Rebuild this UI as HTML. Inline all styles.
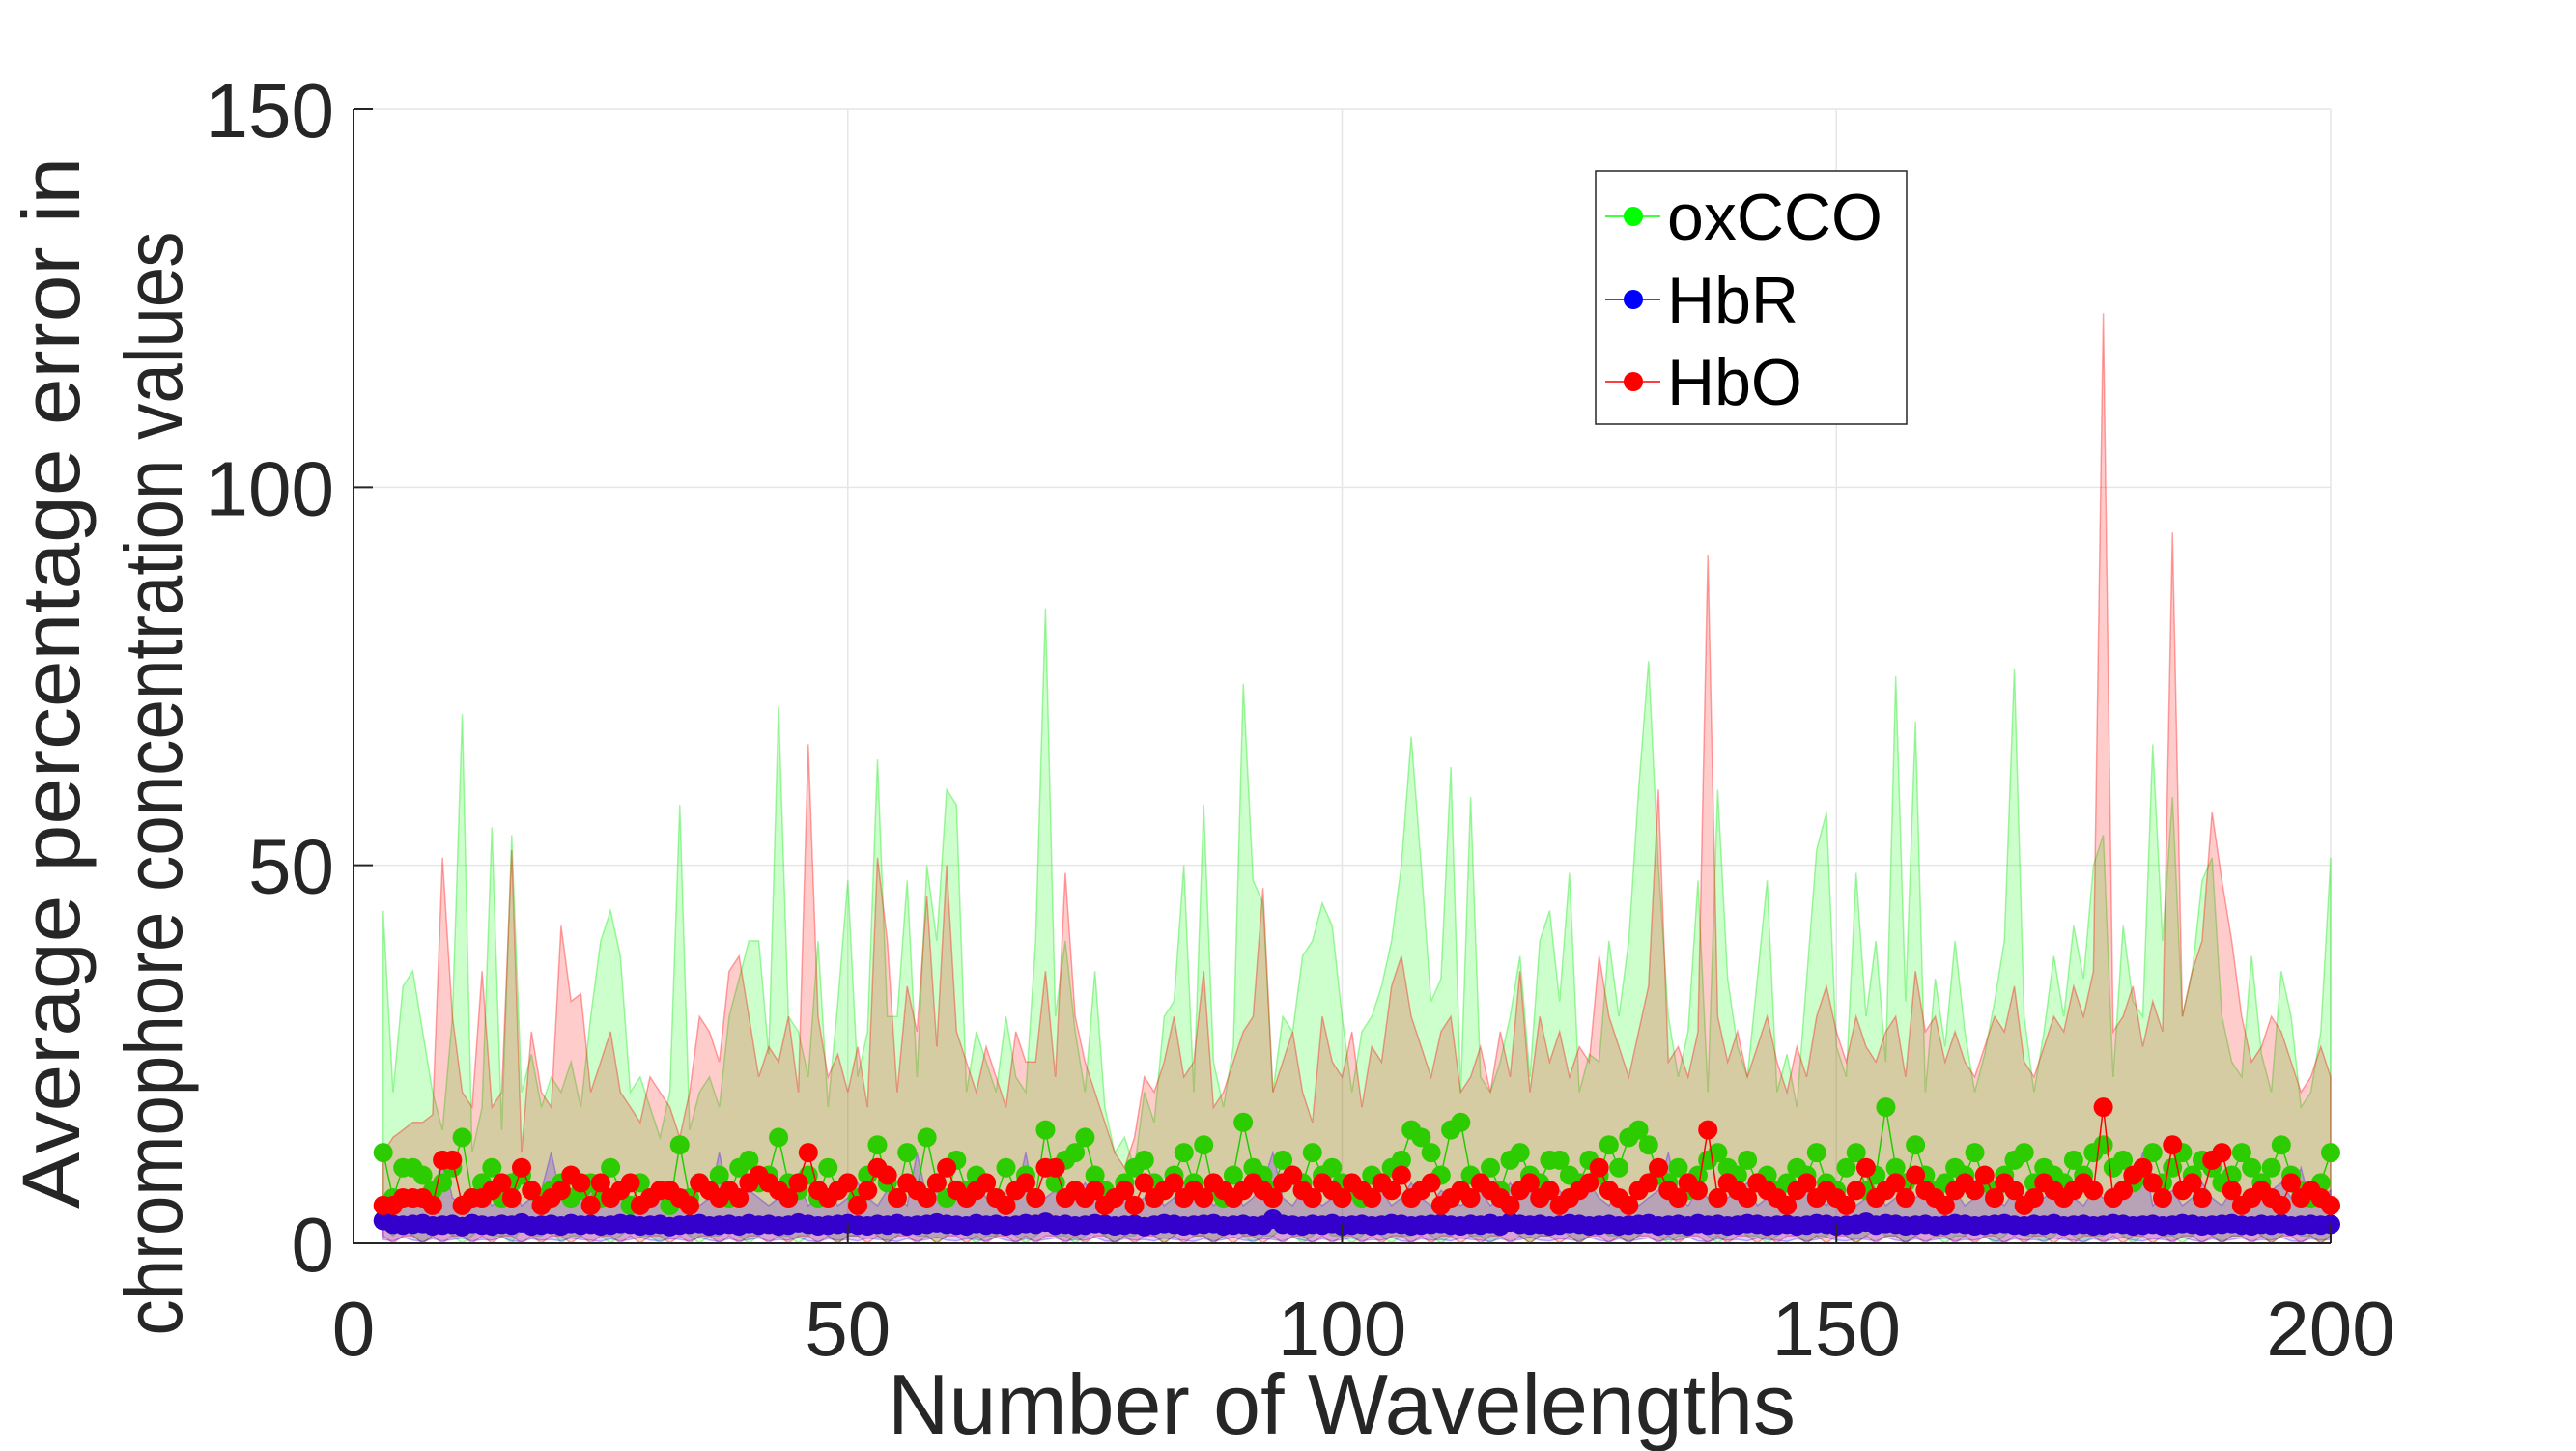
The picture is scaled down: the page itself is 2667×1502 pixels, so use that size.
<!DOCTYPE html>
<html><head><meta charset="utf-8"><style>
html,body{margin:0;padding:0;background:#fff;}
svg{display:block;font-family:"Liberation Sans",Arial,sans-serif;}
</style></head><body>
<svg id="chart" width="2667" height="1502" viewBox="0 0 2667 1502" xmlns="http://www.w3.org/2000/svg">
<rect width="2667" height="1502" fill="#fff"/>
<g id="grid"></g>
<g id="bands"></g>
<g id="series"></g>
<g id="axes"></g>
<text x="1389" y="1484" font-size="88" fill="#262626" text-anchor="middle" textLength="940" lengthAdjust="spacingAndGlyphs">Number of Wavelengths</text>
<text transform="translate(82,707) rotate(-90)" font-size="84" fill="#262626" text-anchor="middle" textLength="1088" lengthAdjust="spacingAndGlyphs">Average percentage error in</text>
<text transform="translate(188,811) rotate(-90)" font-size="84" fill="#262626" text-anchor="middle" textLength="1143" lengthAdjust="spacingAndGlyphs">chromophore concentration values</text>
<g>
<rect x="1652" y="177" width="322" height="262" fill="#fff" stroke="#262626" stroke-width="1.5"/>
<g><line x1="1662" y1="224" x2="1719" y2="224" stroke="#00ff00" stroke-width="1.5"/><circle cx="1691" cy="224" r="10" fill="#00ff00"/><text x="1726" y="248" font-size="68" fill="#000">oxCCO</text></g>
<g><line x1="1662" y1="310" x2="1719" y2="310" stroke="#0000ff" stroke-width="1.5"/><circle cx="1691" cy="310" r="10" fill="#0000ff"/><text x="1726" y="334" font-size="68" fill="#000">HbR</text></g>
<g><line x1="1662" y1="395" x2="1719" y2="395" stroke="#ff0000" stroke-width="1.5"/><circle cx="1691" cy="395" r="10" fill="#ff0000"/><text x="1726" y="419" font-size="68" fill="#000">HbO</text></g>
</g>
</svg>
<script>
const xTicks=[0,50,100,150,200];
const yTicks=[0,50,100,150];
const gU=[44,20,34,36,28,20,15,30,70,12,18,55,15,54,20,25,18,22,20,24,18,30,40,44,38,20,22,18,14,20,58,15,20,22,18,30,35,40,40,25,71,30,28,22,40,18,32,48,22,28,64,30,30,48,22,50,40,60,58,20,28,24,20,30,22,20,40,84,30,40,28,20,36,18,12,14,10,20,16,30,32,50,20,58,24,18,26,74,48,45,20,30,28,38,40,45,42,30,20,28,30,34,40,50,67,50,32,35,63,20,59,22,20,24,30,38,22,40,44,32,49,20,25,24,40,30,40,60,77,50,30,22,28,48,20,60,35,26,22,35,48,20,25,18,35,52,57,26,22,49,30,40,24,75,32,69,20,35,26,40,28,20,25,32,40,76,30,20,28,38,30,42,35,50,54,22,42,32,30,66,40,59,30,36,48,51,30,24,22,38,25,20,36,30,18,20,28,51];
const rU=[12,14,15,16,16,17,51,30,20,18,36,18,20,52,12,28,20,18,42,32,33,20,24,28,20,18,16,22,20,18,14,20,30,28,24,36,38,30,22,26,24,30,20,66,30,22,25,20,26,18,51,40,20,34,28,46,26,50,28,24,20,26,22,18,28,24,24,36,22,49,30,24,20,16,12,10,14,22,20,24,30,22,24,36,18,20,24,28,30,47,20,24,28,20,16,30,24,22,28,18,26,24,34,38,30,26,22,28,30,20,22,26,20,28,22,36,20,30,24,28,22,26,24,38,30,26,22,28,34,60,24,26,22,28,91,30,24,28,22,26,30,24,20,26,22,30,34,28,24,30,26,24,28,30,22,36,28,30,24,28,24,22,26,30,28,34,24,22,26,30,28,34,30,36,123,28,30,34,26,32,28,94,30,36,40,57,48,40,30,24,26,30,28,24,20,22,26,22];
const gM=[12,6,10,10,9,7,8,10,14,6,8,10,6,8,9,7,6,7,8,6,7,8,6,10,7,5,8,6,7,5,13,6,8,7,9,6,10,11,8,9,14,8,7,9,6,10,7,8,6,9,13,8,6,12,7,14,8,6,11,7,9,8,6,10,7,9,6,15,8,11,12,14,9,7,6,8,10,11,8,7,9,12,8,13,7,6,9,16,10,9,7,11,9,8,12,9,10,8,7,6,9,8,10,11,15,14,12,9,15,16,9,8,10,7,11,12,9,8,11,11,9,8,11,9,13,10,14,15,13,9,8,10,7,9,11,12,10,9,11,8,9,7,8,10,9,12,8,7,10,12,7,9,18,10,8,13,9,7,8,10,9,12,8,7,9,11,12,8,10,9,8,11,9,12,13,10,11,8,9,12,8,10,12,9,11,10,8,9,12,10,8,10,13,9,7,6,8,12];
const rM=[5,5,6,6,6,5,11,11,5,6,6,7,8,6,10,7,5,6,7,9,8,5,8,6,7,8,5,6,7,7,6,5,8,7,6,7,6,8,9,8,7,6,8,12,7,6,7,8,5,7,10,9,6,8,7,6,8,10,7,6,7,8,6,5,7,8,6,10,10,6,7,6,7,5,6,7,5,8,6,7,8,6,7,6,8,7,6,7,8,7,6,8,9,7,6,8,7,6,8,7,6,8,7,9,6,7,8,5,6,7,6,8,7,6,5,7,8,6,7,5,6,7,8,10,7,6,5,7,8,10,7,6,8,7,15,6,8,7,6,8,7,6,5,7,8,6,7,6,5,7,10,6,7,8,6,9,7,6,5,7,8,7,9,6,8,7,5,6,8,7,6,7,8,7,18,6,7,9,10,8,6,13,7,8,6,11,12,7,5,6,7,6,5,8,6,7,6,5];
const bM=[3,2.5,2.4,2.5,2.6,2.3,2.4,2.5,2.2,2.6,2.4,2.3,2.5,2.4,2.7,2.3,2.4,2.5,2.3,2.6,2.4,2.5,2.3,2.4,2.6,2.5,2.3,2.4,2.5,2.2,2.4,2.5,2.6,2.3,2.4,2.5,2.3,2.6,2.4,2.5,2.3,2.4,2.7,2.5,2.3,2.4,2.5,2.6,2.4,2.3,2.5,2.4,2.6,2.3,2.4,2.5,2.7,2.5,2.4,2.3,2.6,2.4,2.5,2.3,2.4,2.6,2.5,2.8,2.4,2.5,2.3,2.4,2.6,2.5,2.3,2.4,2.5,2.2,2.4,2.6,2.5,2.3,2.4,2.5,2.6,2.3,2.4,2.5,2.3,2.4,3.2,2.5,2.4,2.3,2.5,2.4,2.6,2.3,2.4,2.5,2.3,2.4,2.6,2.5,2.3,2.4,2.5,2.6,2.4,2.3,2.5,2.4,2.6,2.3,2.8,2.5,2.4,2.5,2.3,2.4,2.6,2.5,2.3,2.4,2.5,2.3,2.4,2.5,2.6,2.3,2.4,2.5,2.3,2.6,2.4,2.5,2.3,2.4,2.6,2.5,2.3,2.4,2.5,2.3,2.4,2.6,2.5,2.3,2.4,2.5,2.8,2.4,2.6,2.5,2.3,2.4,2.5,2.3,2.4,2.6,2.5,2.3,2.4,2.5,2.6,2.4,2.3,2.5,2.4,2.6,2.3,2.4,2.5,2.3,2.4,2.6,2.5,2.3,2.4,2.5,2.3,2.4,2.6,2.5,2.3,2.4,2.5,2.6,2.4,2.3,2.5,2.4,2.6,2.3,2.4,2.5,2.4,2.5];
const bU=[5,6,5,6,7,5,12,6,5,6,7,5,6,8,5,6,7,12,6,5,6,7,5,6,8,6,5,7,6,5,6,7,5,6,12,6,5,7,6,5,6,7,8,5,6,7,5,6,8,6,5,7,6,5,12,6,7,5,6,7,8,6,5,7,6,12,5,6,7,5,6,8,6,5,7,6,5,6,7,5,6,8,6,7,5,6,7,5,6,8,12,6,5,7,6,5,6,7,8,5,6,7,5,6,8,6,5,7,6,5,6,7,5,6,8,6,7,5,6,7,5,6,8,6,5,7,6,5,6,7,12,6,5,7,6,5,6,7,8,5,6,7,5,6,8,6,5,7,6,5,6,7,5,6,8,6,7,5,6,7,5,6,8,6,5,7,6,5,6,7,8,6,5,7,6,5,6,7,12,5,6,7,5,6,8,6,5,7,6,5,6,7,8,6,10,5,6,7];
const gL=[2,1,2,1,0,1,2,1,0,1,2,1,1,0,2,1,1,2,0,1,1,2,1,0,1,2,1,1,0,1,2,1,0,1,1,2,1,0,1,2,1,1,0,1,2,1,0,1,1,2,1,0,1,2,1,1,0,1,2,1,0,1,1,2,1,0,1,2,1,1,0,1,2,1,0,1,1,2,1,0,1,2,1,1,0,1,2,1,0,1,1,2,1,0,1,2,1,1,0,1,2,1,0,1,1,2,1,0,1,2,1,1,0,1,2,1,0,1,1,2,1,0,1,2,1,1,0,1,2,1,0,1,1,2,1,0,1,2,1,1,0,1,2,1,0,1,1,2,1,0,1,2,1,1,0,1,2,1,0,1,1,2,1,0,1,2,1,1,0,1,2,1,0,1,1,2,1,0,1,2,1,1,0,1,2,1,0,1,1,2,1,0,1,2,1,1,0,1];
const rL=[1,0,1,1,0,1,0,1,1,0,1,0,1,1,0,1,0,1,1,0,1,0,1,1,0,1,0,1,1,0,1,0,1,1,0,1,0,1,1,0,1,0,1,1,0,1,0,1,1,0,1,0,1,1,0,1,0,1,1,0,1,0,1,1,0,1,0,1,1,0,1,0,1,1,0,1,0,1,1,0,1,0,1,1,0,1,0,1,1,0,1,0,1,1,0,1,0,1,1,0,1,0,1,1,0,1,0,1,1,0,1,0,1,1,0,1,0,1,1,0,1,0,1,1,0,1,0,1,1,0,1,0,1,1,0,1,0,1,1,0,1,0,1,1,0,1,0,1,1,0,1,0,1,1,0,1,0,1,1,0,1,0,1,1,0,1,0,1,1,0,1,0,1,1,0,1,0,1,1,0,1,0,1,1,0,1,0,1,1,0,1,0,1,1,0,1,0,1];
const bL=[0.5,0.3,0.8,0.4,0.2,0.6,0.3,0.5,0.7,0.3,0.5,0.4,0.8,0.3,0.2,0.6,0.4,0.5,0.3,0.7,0.5,0.4,0.2,0.6,0.3,0.5,0.8,0.4,0.3,0.6,0.5,0.3,0.8,0.4,0.2,0.6,0.3,0.5,0.7,0.3,0.5,0.4,0.8,0.3,0.2,0.6,0.4,0.5,0.3,0.7,0.5,0.4,0.2,0.6,0.3,0.5,0.8,0.4,0.3,0.6,0.5,0.3,0.8,0.4,0.2,0.6,0.3,0.5,0.7,0.3,0.5,0.4,0.8,0.3,0.2,0.6,0.4,0.5,0.3,0.7,0.5,0.4,0.2,0.6,0.3,0.5,0.8,0.4,0.3,0.6,0.5,0.3,0.8,0.4,0.2,0.6,0.3,0.5,0.7,0.3,0.5,0.4,0.8,0.3,0.2,0.6,0.4,0.5,0.3,0.7,0.5,0.4,0.2,0.6,0.3,0.5,0.8,0.4,0.3,0.6,0.5,0.3,0.8,0.4,0.2,0.6,0.3,0.5,0.7,0.3,0.5,0.4,0.8,0.3,0.2,0.6,0.4,0.5,0.3,0.7,0.5,0.4,0.2,0.6,0.3,0.5,0.8,0.4,0.3,0.6,0.5,0.3,0.8,0.4,0.2,0.6,0.3,0.5,0.7,0.3,0.5,0.4,0.8,0.3,0.2,0.6,0.4,0.5,0.3,0.7,0.5,0.4,0.2,0.6,0.3,0.5,0.8,0.4,0.3,0.6,0.5,0.3,0.8,0.4,0.2,0.6,0.3,0.5,0.7,0.3,0.5,0.4,0.8,0.3,0.2,0.6,0.4,0.5];
const xStart=3;

const X0=366,X1=2413,Y0=1287,Y1=113;
const sx=v=>X0+(v-0)/(200-0)*(X1-X0);
const sy=v=>Y0-(v-0)/(150-0)*(Y0-Y1);
const NS='http://www.w3.org/2000/svg';
function mk(tag,attrs,parent){const e=document.createElementNS(NS,tag);for(const k in attrs)e.setAttribute(k,attrs[k]);parent.appendChild(e);return e;}
const grid=document.getElementById('grid'),bands=document.getElementById('bands'),series=document.getElementById('series'),axes=document.getElementById('axes');
xTicks.forEach(t=>{if(t>0){const l=mk('line',{x1:sx(t),x2:sx(t),y1:Y1,y2:Y0,stroke:'#e6e6e6','stroke-width':1.5},grid);}});
yTicks.forEach(t=>{if(t>0){const l=mk('line',{x1:X0,x2:X1,y1:sy(t),y2:sy(t),stroke:'#e6e6e6','stroke-width':1.5},grid);}});
function band(up,lo,fill,stroke,name){
  let d='';up.forEach((v,i)=>{d+=(i?'L':'M')+sx(xStart+i).toFixed(1)+','+sy(v).toFixed(1);});
  for(let i=lo.length-1;i>=0;i--)d+='L'+sx(xStart+i).toFixed(1)+','+sy(lo[i]).toFixed(1);
  const p=mk('path',{d:d+'Z',fill:fill,stroke:stroke,'stroke-width':1.5},bands);
  
  
}
band(gU,gL,'rgba(0,255,0,0.2)','rgba(0,230,0,0.35)','oxcco-error-band');
band(rU,rL,'rgba(255,0,0,0.2)','rgba(255,0,0,0.35)','hbo-error-band');
band(bU,bL,'rgba(60,0,255,0.2)','rgba(60,0,255,0.3)','hbr-error-band');
function line(vals,col,mcol,name){
  const g=mk('g',{},series);
  
  
  let d='';vals.forEach((v,i)=>{d+=(i?'L':'M')+sx(xStart+i).toFixed(1)+','+sy(v).toFixed(1);});
  mk('path',{d:d,fill:'none',stroke:col,'stroke-width':1.5},g);
  vals.forEach((v,i)=>{const c=mk('circle',{cx:sx(xStart+i),cy:sy(v),r:10,fill:mcol},g);
    
    });
}
line(gM,'#22cc00','#2dcc00','oxcco-series');
line(bM,'#3300cc','#3300cc','hbr-series');
line(rM,'#ff0000','#ff0000','hbo-series');
const ax=mk('path',{d:`M${X0},${Y1}L${X0},${Y0}L${X1},${Y0}`,fill:'none',stroke:'#262626','stroke-width':2},axes);

xTicks.forEach(t=>{
  mk('line',{x1:sx(t),x2:sx(t),y1:Y0,y2:Y0-20,stroke:'#262626','stroke-width':2},axes);
  const tx=mk('text',{x:sx(t),y:1403,'font-size':80,fill:'#262626','text-anchor':'middle'},axes);tx.textContent=t;
  
});
yTicks.forEach(t=>{
  mk('line',{x1:X0,x2:X0+20,y1:sy(t),y2:sy(t),stroke:'#262626','stroke-width':2},axes);
  const tx=mk('text',{x:346,y:sy(t)+29,'font-size':80,fill:'#262626','text-anchor':'end'},axes);tx.textContent=t;
  
});
</script>
</body></html>
